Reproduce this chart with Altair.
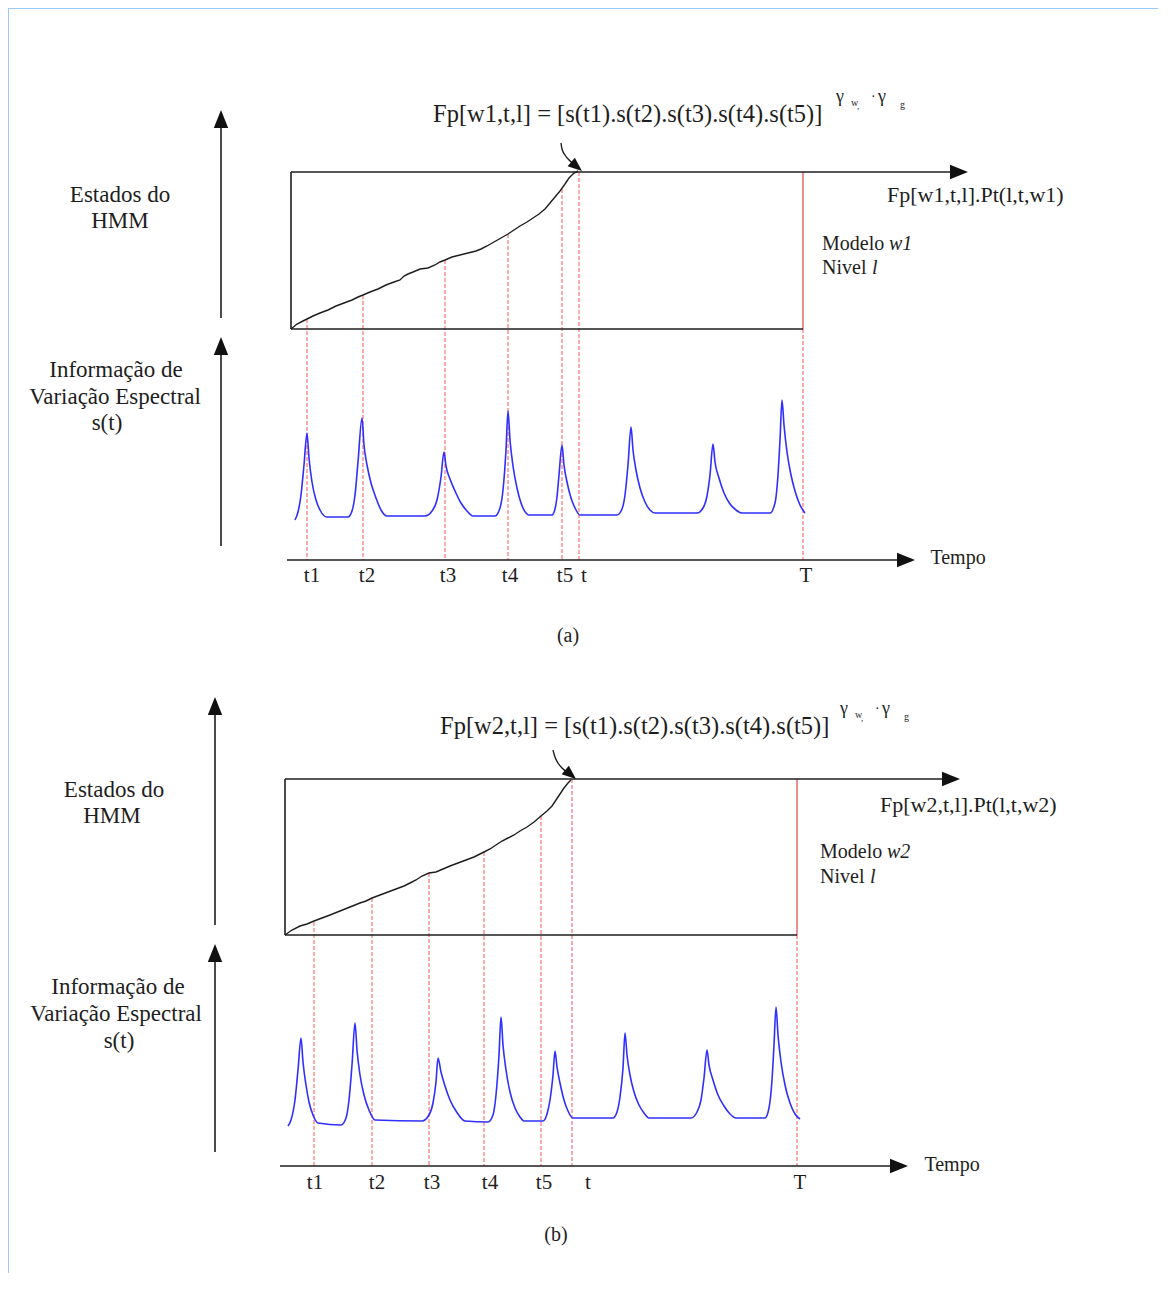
import altair as alt
import pandas as pd

# ------------------------------------------------------------------
# Canvas (pixel-like diagram units)
W, H = 1150, 1265
X0, Y0 = 8, 8
FONT = "Liberation Serif"
INK = "#1e1e1e"
RED = "#ff5a5a"
BLUE = "#2f2fff"

# ------------------------------------------------------------------
# Panel (a)
A_TICK_LABELS = ["t1", "t2", "t3", "t4", "t5", "t", "T"]
A_MARK_X = [307, 363, 445, 508, 562, 579, 803]
A_MARK_TOP = [319, 295, 260, 234, 189, 172, 329]
A_AXIS_Y = 560
A_TICK_LABEL_X = [312, 367, 448, 510, 565, 584, 806]
A_TICK_LABEL_Y = 576

A_SIGNAL = [
    (295, 520), (298, 512), (301, 495), (304, 465), (307, 433),
    (309, 458), (312, 482), (316, 500), (320, 510), (327, 517),
    (348, 517), (352, 511), (355, 495), (358, 462), (362, 418),
    (364, 445), (367, 465), (371, 483), (376, 498), (381, 510), (387, 516),
    (425, 516), (432, 511), (437, 500), (441, 477), (444, 452),
    (446, 466), (450, 479), (455, 491), (461, 503), (467, 511), (473, 516),
    (495, 516), (500, 508), (503, 490), (506, 450), (508, 411),
    (510, 440), (513, 466), (517, 488), (521, 503), (526, 513), (529, 515),
    (552, 515), (555, 509), (557, 497), (559, 475), (562, 445),
    (564, 465), (567, 482), (571, 498), (575, 508), (580, 515),
    (617, 515), (622, 509), (625, 495), (628, 465), (631, 427),
    (633, 450), (636, 470), (640, 488), (645, 502), (650, 510), (655, 513),
    (697, 513), (703, 508), (707, 496), (710, 475), (713, 444),
    (715, 462), (719, 478), (724, 493), (730, 504), (736, 510), (742, 513),
    (770, 513), (775, 503), (778, 475), (780, 440), (782, 400),
    (784, 425), (787, 452), (791, 475), (795, 491), (800, 505), (805, 513),
]

A_PATH = [
    (291, 329), (297, 324), (303, 321), (307, 319), (313, 316), (320, 313),
    (328, 310), (336, 306), (344, 303), (352, 300), (358, 297), (363, 295),
    (370, 292), (378, 289), (386, 285), (394, 282), (400, 280), (404, 276),
    (408, 274), (413, 272), (420, 269), (428, 268), (435, 265), (440, 262),
    (445, 260), (452, 257), (460, 255), (468, 253), (476, 251), (481, 249),
    (487, 246), (494, 242), (501, 238), (508, 234), (514, 230), (520, 226),
    (527, 222), (533, 218), (539, 214), (545, 209), (550, 203), (555, 197),
    (560, 191), (565, 184), (569, 178), (574, 173), (578, 171),
]
A_CURL = [(561, 143), (562, 149), (565, 155), (569, 160), (574, 164)]

# ------------------------------------------------------------------
# Panel (b)
B_TICK_LABELS = ["t1", "t2", "t3", "t4", "t5", "t", "T"]
B_MARK_X = [314, 372, 429, 484, 541, 572, 797]
B_MARK_TOP = [922, 898, 873, 852, 816, 779, 935]
B_AXIS_Y = 1166
B_TICK_LABEL_X = [315, 377, 432, 490, 544, 588, 800]
B_TICK_LABEL_Y = 1183

B_SIGNAL = [
    (288, 1126), (291, 1120), (295, 1100), (298, 1070), (301, 1038),
    (303, 1062), (306, 1085), (309, 1102), (313, 1115), (318, 1123),
    (341, 1125), (346, 1118), (349, 1100), (352, 1065), (355, 1023),
    (357, 1050), (360, 1075), (364, 1095), (369, 1110), (375, 1120),
    (422, 1121), (429, 1115), (433, 1103), (436, 1082), (438, 1058),
    (441, 1072), (445, 1086), (450, 1100), (456, 1111), (465, 1121),
    (488, 1122), (493, 1115), (496, 1095), (499, 1055), (501, 1017),
    (503, 1045), (506, 1070), (510, 1092), (515, 1108), (520, 1117), (524, 1121),
    (543, 1121), (547, 1114), (550, 1100), (553, 1075), (555, 1051),
    (557, 1067), (560, 1083), (564, 1100), (568, 1111), (573, 1118),
    (613, 1118), (617, 1112), (620, 1097), (623, 1068), (625, 1033),
    (627, 1055), (630, 1075), (634, 1092), (639, 1105), (644, 1113), (649, 1118),
    (691, 1118), (697, 1112), (701, 1100), (704, 1078), (707, 1050),
    (709, 1065), (713, 1080), (718, 1095), (724, 1106), (730, 1114), (736, 1118),
    (765, 1118), (769, 1108), (772, 1080), (774, 1045), (776, 1007),
    (778, 1035), (781, 1062), (785, 1085), (790, 1103), (795, 1114), (800, 1119),
]

B_PATH = [
    (285, 935), (292, 930), (300, 926), (307, 924), (314, 921), (322, 918),
    (330, 915), (340, 911), (350, 907), (360, 903), (366, 901), (372, 898),
    (380, 895), (388, 892), (396, 889), (404, 886), (410, 883), (416, 880),
    (422, 876), (429, 873), (436, 872), (443, 869), (450, 866), (458, 863),
    (466, 860), (474, 857), (480, 854), (484, 852), (490, 849), (496, 845),
    (502, 841), (508, 838), (514, 835), (520, 831), (527, 827), (534, 822),
    (541, 816), (547, 811), (552, 806), (556, 800), (560, 794), (564, 788),
    (568, 783), (571, 780),
]
B_CURL = [(553, 750), (555, 757), (558, 763), (562, 768), (567, 772)]

# ------------------------------------------------------------------
# Frame lines: (x, y, x2, y2)
BLACK_SEGS = [
    # (a)
    (291, 172, 291, 329), (291, 329, 803, 329), (291, 172, 955, 172),
    (221, 318, 221, 122), (221, 546, 221, 350), (287, 560, 903, 560),
    # (b)
    (285, 779, 285, 935), (285, 935, 797, 935), (285, 779, 948, 779),
    (215, 925, 215, 709), (215, 1152, 215, 956), (280, 1166, 896, 1166),
]
RED_SOLID = [(803, 172, 803, 329), (797, 779, 797, 935)]
BORDER = [(8, 8, 8, 1273), (8, 8, 1158, 8)]

# Arrow heads: centre x, centre y, angle (deg), size (area)
HEADS = [
    (959, 172, 0, 324), (221, 119, 270, 324), (221, 346, 270, 324), (906, 560, 0, 324),
    (951, 779, 0, 324), (215, 706, 270, 324), (215, 953, 270, 324), (899, 1166, 0, 324),
    (576.6, 166.5, 40, 196), (570.6, 774.5, 40, 196),
]

# Texts: text, x, y, font size
TEXT_CENTER = [
    ("Estados do", 120, 195, 23), ("HMM", 120, 221, 23),
    ("Informação de", 116, 370, 23), ("Variação Espectral", 115, 397, 23),
    ("s(t)", 107, 423, 23),
    ("Tempo", 958, 558, 20), ("(a)", 568, 636, 20),
    ("Estados do", 114, 790, 23), ("HMM", 112, 816, 23),
    ("Informação de", 118, 987, 23), ("Variação Espectral", 116, 1014, 23),
    ("s(t)", 119, 1041, 23),
    ("Tempo", 952, 1165, 20), ("(b)", 556, 1235, 20),
]
TEXT_LEFT = [
    ("Fp[w1,t,l] = [s(t1).s(t2).s(t3).s(t4).s(t5)]", 433, 115, 24.5),
    ("γ", 836, 97, 18), ("w", 851, 103, 10), (",", 857, 106, 9), ("·", 871, 97, 14),
    ("γ", 878, 97, 18), ("g", 900, 105, 10),
    ("Fp[w1,t,l].Pt(l,t,w1)", 887, 195, 22),
    ("Modelo ", 822, 244, 20), ("Nivel ", 822, 268, 20),
    ("Fp[w2,t,l] = [s(t1).s(t2).s(t3).s(t4).s(t5)]", 440, 727, 24.5),
    ("γ", 840, 709, 18), ("w", 855, 715, 10), (",", 861, 718, 9), ("·", 875, 709, 14),
    ("γ", 882, 709, 18), ("g", 904, 717, 10),
    ("Fp[w2,t,l].Pt(l,t,w2)", 880, 805, 22),
    ("Modelo ", 820, 852, 20), ("Nivel ", 820, 877, 20),
]
TEXT_ITALIC = [
    ("w1", 889, 244, 20), ("l", 872, 268, 20),
    ("w2", 887, 852, 20), ("l", 870, 877, 20),
]

# ------------------------------------------------------------------
def seg_df(rows):
    return pd.DataFrame(rows, columns=["x", "y", "x2", "y2"])


def line_df(series):
    out = []
    for g, pts in series.items():
        for i, (x, y) in enumerate(pts):
            out.append({"g": g, "i": i, "x": x, "y": y})
    return pd.DataFrame(out)


red_dash = []
for xs_, tops, ay in ((A_MARK_X, A_MARK_TOP, A_AXIS_Y), (B_MARK_X, B_MARK_TOP, B_AXIS_Y)):
    for x, t in zip(xs_, tops):
        red_dash.append((x, t, x, ay))

tick_text = [(lab, x, A_TICK_LABEL_Y, 21) for lab, x in zip(A_TICK_LABELS, A_TICK_LABEL_X)]
tick_text += [(lab, x, B_TICK_LABEL_Y, 21) for lab, x in zip(B_TICK_LABELS, B_TICK_LABEL_X)]

XS = alt.Scale(domain=[X0, X0 + W], nice=False, zero=False)
YS = alt.Scale(domain=[Y0, Y0 + H], nice=False, zero=False, reverse=True)
X = alt.X("x:Q", scale=XS, axis=None)
Y = alt.Y("y:Q", scale=YS, axis=None)


def rules(rows, color, width, dash=None, opacity=1.0):
    kw = dict(color=color, strokeWidth=width, opacity=opacity)
    if dash:
        kw["strokeDash"] = dash
    return alt.Chart(seg_df(rows)).mark_rule(**kw).encode(
        x=X, y=Y, x2="x2:Q", y2="y2:Q")


def lines(series, color, width, interp="linear"):
    return alt.Chart(line_df(series)).mark_line(
        color=color, strokeWidth=width, interpolate=interp).encode(
        x=X, y=Y, detail="g:N", order="i:Q")


def texts(rows, align, style="normal"):
    df = pd.DataFrame(rows, columns=["text", "x", "y", "fs"])
    return alt.Chart(df).mark_text(
        font=FONT, color=INK, align=align, baseline="middle", fontStyle=style).encode(
        x=X, y=Y, text="text:N", size=alt.Size("fs:Q", scale=None, legend=None))


heads_df = pd.DataFrame(HEADS, columns=["x", "y", "ang", "sz"])
heads = alt.Chart(heads_df).mark_point(
    shape="M -1 -0.8 L 1 0 L -1 0.8 Z", filled=True, color="#111",
    opacity=1, strokeWidth=0).encode(
    x=X, y=Y, angle=alt.Angle("ang:Q", scale=None),
    size=alt.Size("sz:Q", scale=None, legend=None))

chart = alt.layer(
    rules(BORDER, "#9cc8f5", 2),
    rules(red_dash, RED, 1.2, dash=[4, 2], opacity=0.85),
    rules(RED_SOLID, "#e06a6a", 1.5),
    rules(BLACK_SEGS, INK, 1.6),
    lines({"a": A_SIGNAL, "b": B_SIGNAL}, BLUE, 1.6, interp="monotone"),
    lines({"a": A_PATH, "b": B_PATH}, INK, 1.4),
    lines({"a": A_CURL, "b": B_CURL}, INK, 1.4, interp="monotone"),
    heads,
    texts(TEXT_CENTER + tick_text, "center"),
    texts(TEXT_LEFT, "left"),
    texts(TEXT_ITALIC, "left", "italic"),
).properties(
    width=W, height=H, padding=0, autosize="none", background="white"
).configure_view(stroke=None)

chart.save("out.html", embed_options={"renderer": "svg", "actions": False})
